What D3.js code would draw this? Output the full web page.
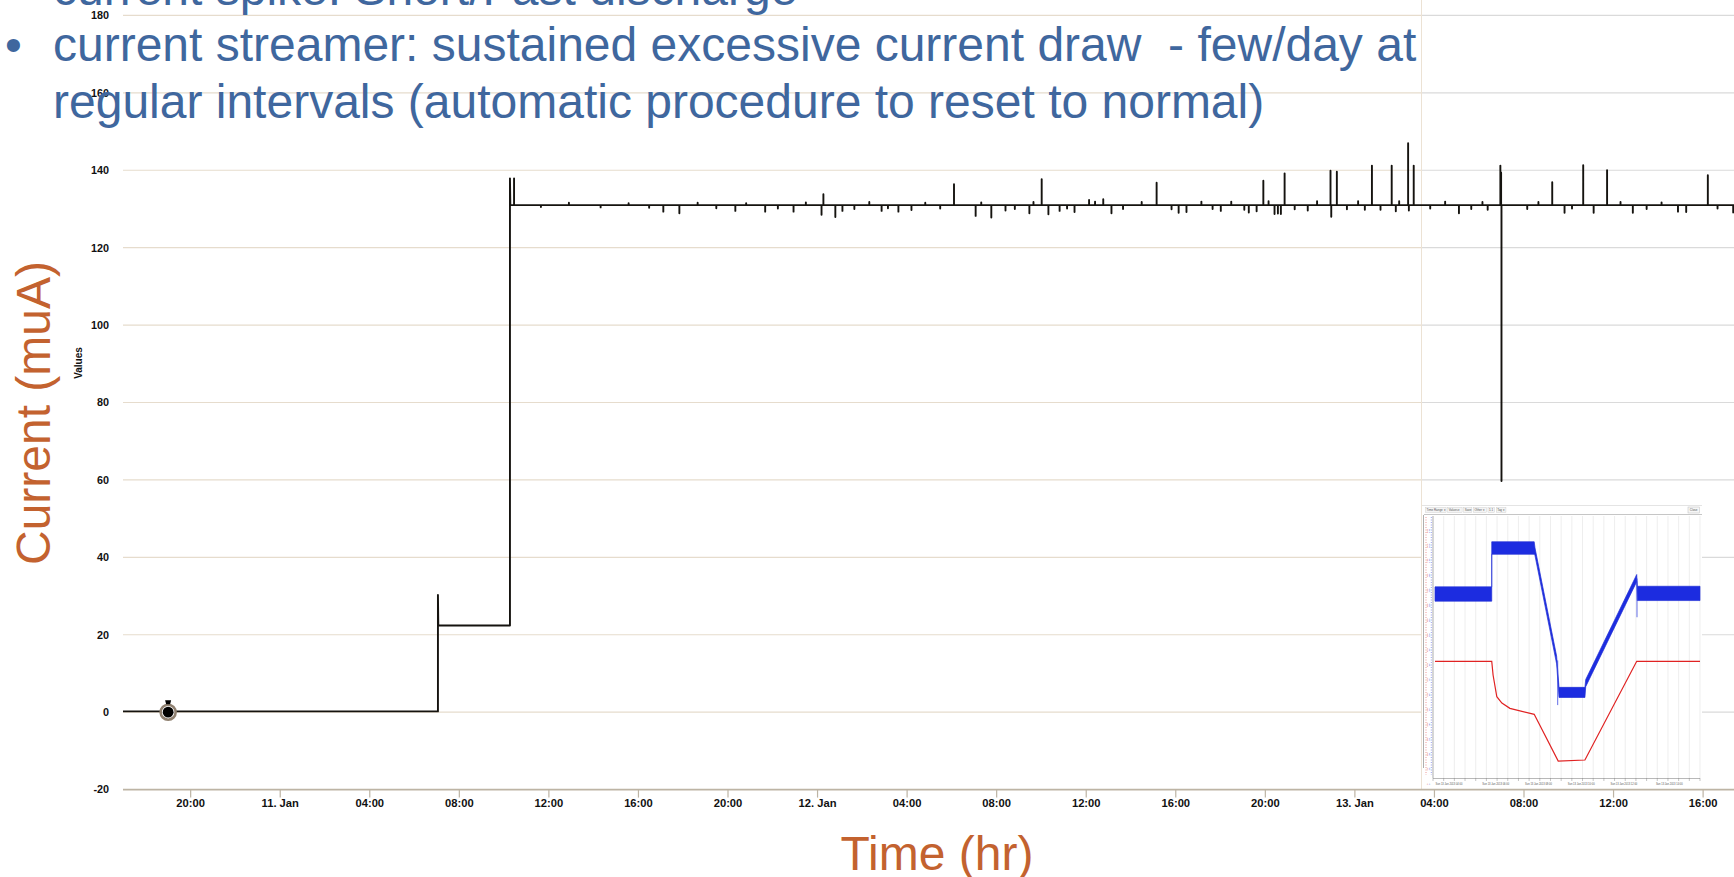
<!DOCTYPE html>
<html>
<head>
<meta charset="utf-8">
<script src="https://cdn.jsdelivr.net/npm/d3@7"></script>
<style>
  html, body { margin: 0; padding: 0; background: #ffffff; }
  svg { display: block; }
</style>
</head>
<body>
<svg id="chart" width="1734" height="877"></svg>
<script>
// ---------------------------------------------------------------------------
// Data
// ---------------------------------------------------------------------------
const timeDomain = ["2013-01-10 17:00", "2013-01-13 17:00"];
const yTickValues = [-20, 0, 20, 40, 60, 80, 100, 120, 140, 160, 180];

// Main trace of the supply current (muA): off, first ramp, then operating level
const traceTimes  = ["2013-01-10 17:00", "2013-01-11 07:04", "2013-01-11 07:04", "2013-01-11 07:05",
                     "2013-01-11 10:17", "2013-01-11 10:17", "2013-01-11 10:18"];
const traceValues = [0.2, 0.2, 30.3, 22.4, 22.4, 137.9, 131.0];
const baseLevel = 131.0;
const traceEnd = "2013-01-13 17:30";

// Short upward current spikes on the operating level
const spikeTimes  = ["2013-01-11 10:28", "2013-01-12 00:17", "2013-01-12 06:07", "2013-01-12 10:02",
                     "2013-01-12 12:09", "2013-01-12 12:47", "2013-01-12 15:10", "2013-01-12 19:56",
                     "2013-01-12 20:53", "2013-01-12 22:56", "2013-01-12 23:13", "2013-01-13 00:47",
                     "2013-01-13 01:40", "2013-01-13 02:24", "2013-01-13 02:39", "2013-01-13 06:58",
                     "2013-01-13 07:00", "2013-01-13 09:17", "2013-01-13 10:40", "2013-01-13 11:44",
                     "2013-01-13 16:14"];
const spikeValues = [137.9, 133.8, 136.4, 137.7, 132.3, 132.5, 136.8, 137.3,
                     139.2, 139.9, 139.6, 141.2, 141.2, 147.0, 141.2, 141.2,
                     139.4, 136.9, 141.3, 140.0, 138.7];

// Short downward dips (including the deep discharge on 13 Jan)
const dipTimes  = ["2013-01-11 17:08", "2013-01-11 17:51", "2013-01-11 20:21", "2013-01-11 21:41",
                   "2013-01-11 22:57", "2013-01-12 00:12", "2013-01-12 00:49", "2013-01-12 01:08",
                   "2013-01-12 02:53", "2013-01-12 03:38", "2013-01-12 04:13", "2013-01-12 07:05",
                   "2013-01-12 07:47", "2013-01-12 08:25", "2013-01-12 09:29", "2013-01-12 10:20",
                   "2013-01-12 10:50", "2013-01-12 11:30", "2013-01-12 13:09", "2013-01-12 16:09",
                   "2013-01-12 16:30", "2013-01-12 18:02", "2013-01-12 19:17", "2013-01-12 19:38",
                   "2013-01-12 20:26", "2013-01-12 20:35", "2013-01-12 20:43", "2013-01-12 21:55",
                   "2013-01-12 22:58", "2013-01-13 00:28", "2013-01-13 01:51", "2013-01-13 02:26",
                   "2013-01-13 05:07", "2013-01-13 06:24", "2013-01-13 07:01", "2013-01-13 09:50",
                   "2013-01-13 11:08", "2013-01-13 12:53", "2013-01-13 14:54", "2013-01-13 15:16",
                   "2013-01-13 17:22"];
const dipValues = [129.3, 128.9, 129.5, 129.3, 129.3, 128.5, 127.9, 129.5,
                   129.5, 129.3, 129.7, 128.2, 127.8, 129.6, 128.9, 128.6,
                   129.5, 129.2, 128.9, 129.0, 129.2, 129.5, 129.1, 129.4,
                   128.7, 128.8, 128.7, 129.6, 128.0, 129.8, 129.4, 129.6,
                   128.9, 129.8, 59.7, 129.0, 129.0, 129.0, 129.3, 129.2,
                   129.1];

// Small ripple on the operating level
const rippleTimes  = ["2013-01-11 11:40", "2013-01-11 12:55", "2013-01-11 14:20", "2013-01-11 15:35",
                      "2013-01-11 16:30", "2013-01-11 18:40", "2013-01-11 19:30", "2013-01-11 20:50",
                      "2013-01-11 22:15", "2013-01-11 23:30", "2013-01-12 01:40", "2013-01-12 02:20",
                      "2013-01-12 03:10", "2013-01-12 04:50", "2013-01-12 05:30", "2013-01-12 07:20",
                      "2013-01-12 08:50", "2013-01-12 09:40", "2013-01-12 11:10", "2013-01-12 12:25",
                      "2013-01-12 13:40", "2013-01-12 14:30", "2013-01-12 15:50", "2013-01-12 17:10",
                      "2013-01-12 17:40", "2013-01-12 18:30", "2013-01-12 19:05", "2013-01-12 20:10",
                      "2013-01-12 21:20", "2013-01-12 22:20", "2013-01-12 23:40", "2013-01-13 00:10",
                      "2013-01-13 01:10", "2013-01-13 02:00", "2013-01-13 03:50", "2013-01-13 04:30",
                      "2013-01-13 05:40", "2013-01-13 06:10", "2013-01-13 08:10", "2013-01-13 08:40",
                      "2013-01-13 10:10", "2013-01-13 12:20", "2013-01-13 13:30", "2013-01-13 14:10",
                      "2013-01-13 16:40"];
const rippleValues = [130.5, 131.6, 130.4, 131.5, 130.3, 131.6, 130.2, 131.5,
                      130.1, 131.7, 130.0, 131.8, 130.2, 131.6, 130.1, 131.7,
                      130.0, 131.8, 130.1, 131.9, 130.0, 131.8, 129.9, 131.9,
                      130.0, 131.9, 129.8, 132.0, 129.9, 132.0, 129.9, 132.0,
                      129.8, 132.0, 130.1, 131.9, 130.0, 131.8, 130.0, 131.8,
                      130.1, 131.8, 130.0, 131.7, 130.1];

// Highlighted point on the off level
const markerTime = "2013-01-10 19:01";
const markerValue = 0;

// Inset: HV channel readout during a reset cycle (arbitrary units)
const insetBlueX    = [0.75, 22.0, 22.0, 37.9, 38.2, 46.3, 47.2, 56.9, 57.2, 76.3, 76.5, 100];
const insetBlueMid  = [12.76, 12.76, 15.85, 15.85, 15.6, 8.33, 6.15, 6.15, 6.78, 13.83, 12.8, 12.8];
const insetBlueHalf = [0.48, 0.48, 0.42, 0.42, 0.26, 0.26, 0.34, 0.34, 0.24, 0.24, 0.48, 0.48];
const insetBlueSpikeX    = [46.7, 76.4];
const insetBlueSpikeFrom = [8.3, 13.8];
const insetBlueSpikeTo   = [5.3, 11.2];
const insetRedX = [0.75, 22.0, 22.5, 23.9, 25.8, 28.8, 37.9, 46.9, 56.9, 76.3, 100];
const insetRedY = [8.24, 8.24, 7.32, 5.86, 5.44, 5.08, 4.68, 1.54, 1.61, 8.24, 8.24];
const insetYTicks = [0, 1, 2, 3, 4, 5, 6, 7, 8, 9, 10, 11, 12, 13, 14, 15, 16, 17];
const insetGridX = [0, 4, 8, 12, 16, 20, 24, 28, 32, 36, 40, 44, 48, 52, 56, 60, 64, 68, 72, 76, 80, 84, 88, 92, 96, 100];
const insetTimeLabelX = [6, 23.5, 39.5, 55.5, 71.5, 88.5];
const insetTimeLabels = ["Sun 13 Jan 2013 04:00", "Sun 13 Jan 2013 06:00", "Sun 13 Jan 2013 08:00",
                         "Sun 13 Jan 2013 10:00", "Sun 13 Jan 2013 12:00", "Sun 13 Jan 2013 14:00"];
const insetToolbar = ["Time Range \u25BE", "Values \u25BE", "Save", "Other \u25BE", "1.1", "Tag \u25BE"];

// Slide text
const bulletLines = ["current spike: Short/Fast discharge",
                     "current streamer: sustained excessive current draw  - few/day at",
                     "regular intervals (automatic procedure to reset to normal)"];

// ---------------------------------------------------------------------------
// Scales
// ---------------------------------------------------------------------------
const parseT = d3.utcParse("%Y-%m-%d %H:%M");
const svg = d3.select("#chart");

const plotLeft = 123, plotRight = 1735, splitX = 1421;
const x = d3.scaleUtc().domain(timeDomain.map(parseT)).range([plotLeft, plotRight]);
// right-hand panel is offset by a few pixels
const xR = d3.scaleUtc().domain(timeDomain.map(parseT)).range([plotLeft - 10, plotRight - 10]);
const y = d3.scaleLinear().domain([-20, 180]).range([789.6, 15.4]);

// ---------------------------------------------------------------------------
// Series construction
// ---------------------------------------------------------------------------
const series = traceTimes.map((t, i) => [parseT(t), traceValues[i]]);
const events = spikeTimes.map((t, i) => [parseT(t), spikeValues[i]])
  .concat(dipTimes.map((t, i) => [parseT(t), dipValues[i]]))
  .concat(rippleTimes.map((t, i) => [parseT(t), rippleValues[i]]))
  .sort((a, b) => a[0] - b[0]);
events.forEach(e => {
  series.push([e[0], baseLevel], [e[0], e[1]], [e[0], baseLevel]);
});
series.push([parseT(traceEnd), baseLevel]);

// ---------------------------------------------------------------------------
// Clip regions
// ---------------------------------------------------------------------------
const defs = svg.append("defs");
defs.append("clipPath").attr("id", "clipL")
  .append("rect").attr("x", 0).attr("y", -20).attr("width", splitX).attr("height", 900);
defs.append("clipPath").attr("id", "clipR")
  .append("rect").attr("x", splitX).attr("y", -20).attr("width", 1734 - splitX).attr("height", 900);

// ---------------------------------------------------------------------------
// Grid
// ---------------------------------------------------------------------------
const grid = svg.append("g");
grid.selectAll("line.gl").data(yTickValues.filter(v => v > -20)).join("line")
  .attr("class", "gl")
  .attr("x1", plotLeft).attr("x2", splitX)
  .attr("y1", d => y(d)).attr("y2", d => y(d))
  .attr("stroke", "#e6dccd").attr("stroke-width", 1.2);
grid.selectAll("line.gr").data(yTickValues.filter(v => v > -20)).join("line")
  .attr("class", "gr")
  .attr("x1", splitX).attr("x2", 1734)
  .attr("y1", d => y(d)).attr("y2", d => y(d))
  .attr("stroke", "#dadada").attr("stroke-width", 1.2);

// panel seam
svg.append("line")
  .attr("x1", splitX + 0.5).attr("x2", splitX + 0.5).attr("y1", 0).attr("y2", y(-20))
  .attr("stroke", "#ece2d4").attr("stroke-width", 1);

// ---------------------------------------------------------------------------
// Axes
// ---------------------------------------------------------------------------
const fmtTick = d => d.getUTCHours() === 0 ? d3.utcFormat("%-d. %b")(d) : d3.utcFormat("%H:%M")(d);
const allTicks = x.ticks(d3.utcHour.every(4));

svg.append("line")
  .attr("x1", plotLeft).attr("x2", 1734).attr("y1", y(-20)).attr("y2", y(-20))
  .attr("stroke", "#bdb4a4").attr("stroke-width", 1.6);

function styleAxis(g) {
  g.select(".domain").remove();
  g.selectAll(".tick line").attr("stroke", "#bdb4a4").attr("stroke-width", 1.2);
  g.selectAll(".tick text")
    .attr("font-family", "'Liberation Sans', Arial, sans-serif")
    .attr("font-size", 11.2).attr("font-weight", "bold").attr("fill", "#111");
}
svg.append("g").attr("transform", `translate(0,${y(-20)})`)
  .call(d3.axisBottom(x).tickValues(allTicks.filter(d => x(d) > 150 && x(d) < splitX))
    .tickFormat(fmtTick).tickSize(8).tickPadding(1))
  .call(styleAxis);
svg.append("g").attr("transform", `translate(0,${y(-20)})`)
  .call(d3.axisBottom(xR).tickValues(xR.ticks(d3.utcHour.every(4)).filter(d => xR(d) > splitX + 5 && xR(d) < 1730))
    .tickFormat(fmtTick).tickSize(8).tickPadding(1))
  .call(styleAxis);

svg.append("g").selectAll("text").data(yTickValues).join("text")
  .attr("x", 109).attr("y", d => y(d)).attr("dy", "0.36em")
  .attr("text-anchor", "end")
  .attr("font-family", "'Liberation Sans', Arial, sans-serif")
  .attr("font-size", 10.8).attr("font-weight", "bold").attr("fill", "#111")
  .text(d => d);

svg.append("text")
  .attr("transform", "translate(81.5,363) rotate(-90)")
  .attr("text-anchor", "middle")
  .attr("font-family", "'Liberation Sans', Arial, sans-serif")
  .attr("font-size", 10).attr("font-weight", "bold").attr("fill", "#111")
  .text("Values");

// ---------------------------------------------------------------------------
// Current trace
// ---------------------------------------------------------------------------
const lineL = d3.line().x(d => x(d[0])).y(d => y(d[1]));
const lineR = d3.line().x(d => xR(d[0])).y(d => y(d[1]));
svg.append("path").datum(series).attr("clip-path", "url(#clipL)")
  .attr("d", lineL).attr("fill", "none")
  .attr("stroke", "#15130f").attr("stroke-width", 1.9).attr("stroke-linejoin", "round");
svg.append("path").datum(series).attr("clip-path", "url(#clipR)")
  .attr("d", lineR).attr("fill", "none")
  .attr("stroke", "#15130f").attr("stroke-width", 1.9).attr("stroke-linejoin", "round");

// highlighted point
const mx = x(parseT(markerTime)), my = y(markerValue);
svg.append("circle").attr("cx", mx).attr("cy", my).attr("r", 7.5)
  .attr("fill", "#ffffff").attr("stroke", "#8f8070").attr("stroke-width", 2.6);
svg.append("circle").attr("cx", mx).attr("cy", my).attr("r", 5.4).attr("fill", "#000");
svg.append("path")
  .attr("d", `M${mx - 3},${my - 12} L${mx + 3},${my - 12} L${mx + 2},${my - 8} L${mx - 2},${my - 8} Z`)
  .attr("fill", "#000");

// ---------------------------------------------------------------------------
// Inset readout
// ---------------------------------------------------------------------------
const inset = svg.append("g");
const ix = d3.scaleLinear().domain([0, 100]).range([1433, 1700]);
const iy = d3.scaleLinear().domain([0, 18]).range([784, 516]);

inset.append("rect").attr("x", 1422).attr("y", 505).attr("width", 280).attr("height", 283)
  .attr("fill", "#ffffff");
inset.append("line").attr("x1", 1422).attr("x2", 1702).attr("y1", 505.5).attr("y2", 505.5)
  .attr("stroke", "#e4e4e4");
inset.append("line").attr("x1", 1424).attr("x2", 1702).attr("y1", 514.5).attr("y2", 514.5)
  .attr("stroke", "#b8b8b8").attr("stroke-width", 0.8);

// toolbar
let tbX = 1425.5;
insetToolbar.forEach(label => {
  const w = label.length * 1.55 + 2;
  inset.append("rect").attr("x", tbX).attr("y", 507.5).attr("width", w).attr("height", 5)
    .attr("fill", "#f4f4f4").attr("stroke", "#c8c8c8").attr("stroke-width", 0.4);
  inset.append("text").attr("x", tbX + 1).attr("y", 511.4)
    .attr("font-family", "'Liberation Sans', Arial, sans-serif").attr("font-size", 3)
    .attr("fill", "#555").text(label);
  tbX += w + 1.6;
});
inset.append("rect").attr("x", 1688).attr("y", 507).attr("width", 11.5).attr("height", 6)
  .attr("fill", "#f6f6f6").attr("stroke", "#bdbdbd").attr("stroke-width", 0.5);
inset.append("text").attr("x", 1693.7).attr("y", 511.3).attr("text-anchor", "middle")
  .attr("font-family", "'Liberation Sans', Arial, sans-serif").attr("font-size", 3)
  .attr("fill", "#555").text("Close");

// vertical grid
inset.selectAll("line.ig").data(insetGridX).join("line").attr("class", "ig")
  .attr("x1", d => ix(d)).attr("x2", d => ix(d)).attr("y1", 516).attr("y2", 778)
  .attr("stroke", "#e6e6e6").attr("stroke-width", 0.7);

// frame
inset.append("line").attr("x1", 1423.5).attr("x2", 1423.5).attr("y1", 515).attr("y2", 768)
  .attr("stroke", "#9a9a9a").attr("stroke-width", 0.8);
inset.append("line").attr("x1", 1433).attr("x2", 1433).attr("y1", 516).attr("y2", 778)
  .attr("stroke", "#9a9a9a").attr("stroke-width", 0.7);
inset.append("line").attr("x1", 1433).attr("x2", 1700).attr("y1", 778.5).attr("y2", 778.5)
  .attr("stroke", "#9a9a9a").attr("stroke-width", 0.7);

// left axes: red and blue dotted scales with tiny labels
inset.append("line").attr("x1", 1426).attr("x2", 1426).attr("y1", 517).attr("y2", 775)
  .attr("stroke", "#e05050").attr("stroke-width", 0.6).attr("stroke-dasharray", "1,1.5");
inset.append("line").attr("x1", 1431.3).attr("x2", 1431.3).attr("y1", 517).attr("y2", 775)
  .attr("stroke", "#5060e0").attr("stroke-width", 0.6).attr("stroke-dasharray", "1,1.5");
inset.selectAll("text.ry").data(insetYTicks).join("text").attr("class", "ry")
  .attr("transform", d => `translate(1428,${iy(d)}) rotate(-90)`)
  .attr("text-anchor", "middle")
  .attr("font-family", "'Liberation Sans', Arial, sans-serif").attr("font-size", 2.4)
  .attr("fill", "#d03030").text(d => (d * 50).toFixed(0));
inset.selectAll("text.by").data(insetYTicks).join("text").attr("class", "by")
  .attr("transform", d => `translate(1430.3,${iy(d)}) rotate(-90)`)
  .attr("text-anchor", "middle")
  .attr("font-family", "'Liberation Sans', Arial, sans-serif").attr("font-size", 2.4)
  .attr("fill", "#3040d0").text(d => (d * 10).toFixed(0));

// bottom time ticks
inset.selectAll("line.it").data(insetGridX).join("line").attr("class", "it")
  .attr("x1", d => ix(d)).attr("x2", d => ix(d)).attr("y1", 778).attr("y2", 781)
  .attr("stroke", "#888").attr("stroke-width", 0.5);
inset.selectAll("text.itl").data(insetTimeLabels).join("text").attr("class", "itl")
  .attr("x", (d, i) => ix(insetTimeLabelX[i])).attr("y", 784.5).attr("text-anchor", "middle")
  .attr("font-family", "'Liberation Sans', Arial, sans-serif").attr("font-size", 2.6)
  .attr("fill", "#555").text(d => d);

// blue band
const blue = insetBlueX.map((v, i) => ({ x: v, m: insetBlueMid[i], h: insetBlueHalf[i] }));
inset.append("path").datum(blue)
  .attr("d", d3.area().x(d => ix(d.x)).y0(d => iy(d.m - d.h)).y1(d => iy(d.m + d.h)))
  .attr("fill", "#1c2ce0").attr("stroke", "#2331d6").attr("stroke-width", 0.7);
inset.selectAll("line.bs").data(insetBlueSpikeX).join("line").attr("class", "bs")
  .attr("x1", d => ix(d)).attr("x2", d => ix(d))
  .attr("y1", (d, i) => iy(insetBlueSpikeFrom[i])).attr("y2", (d, i) => iy(insetBlueSpikeTo[i]))
  .attr("stroke", "#3a48e0").attr("stroke-width", 0.8);

// red trace
inset.append("path").datum(insetRedX.map((v, i) => [v, insetRedY[i]]))
  .attr("d", d3.line().x(d => ix(d[0])).y(d => iy(d[1])))
  .attr("fill", "none").attr("stroke", "#e02222").attr("stroke-width", 1.2);

// ---------------------------------------------------------------------------
// Slide text
// ---------------------------------------------------------------------------
const slideFont = "'Liberation Sans', Arial, Helvetica, sans-serif";
const blueText = "#3f679e";
const orange = "#c3622f";
const lineBase = [5, 61, 118];
bulletLines.forEach((s, i) => {
  svg.append("text").attr("x", 53).attr("y", lineBase[i])
    .attr("font-family", slideFont).attr("font-size", 48).attr("fill", blueText)
    .style("white-space", "pre").text(s);
});
[lineBase[0] - 56, lineBase[1]].forEach(b => {
  svg.append("text").attr("x", 5).attr("y", b)
    .attr("font-family", slideFont).attr("font-size", 48).attr("fill", blueText)
    .text("\u2022");
});

svg.append("text")
  .attr("transform", "translate(50,413) rotate(-90)")
  .attr("text-anchor", "middle")
  .attr("font-family", slideFont).attr("font-size", 48).attr("fill", orange)
  .text("Current (muA)");
svg.append("text")
  .attr("x", 937).attr("y", 870).attr("text-anchor", "middle")
  .attr("font-family", slideFont).attr("font-size", 48).attr("fill", orange)
  .text("Time (hr)");
</script>
</body>
</html>
